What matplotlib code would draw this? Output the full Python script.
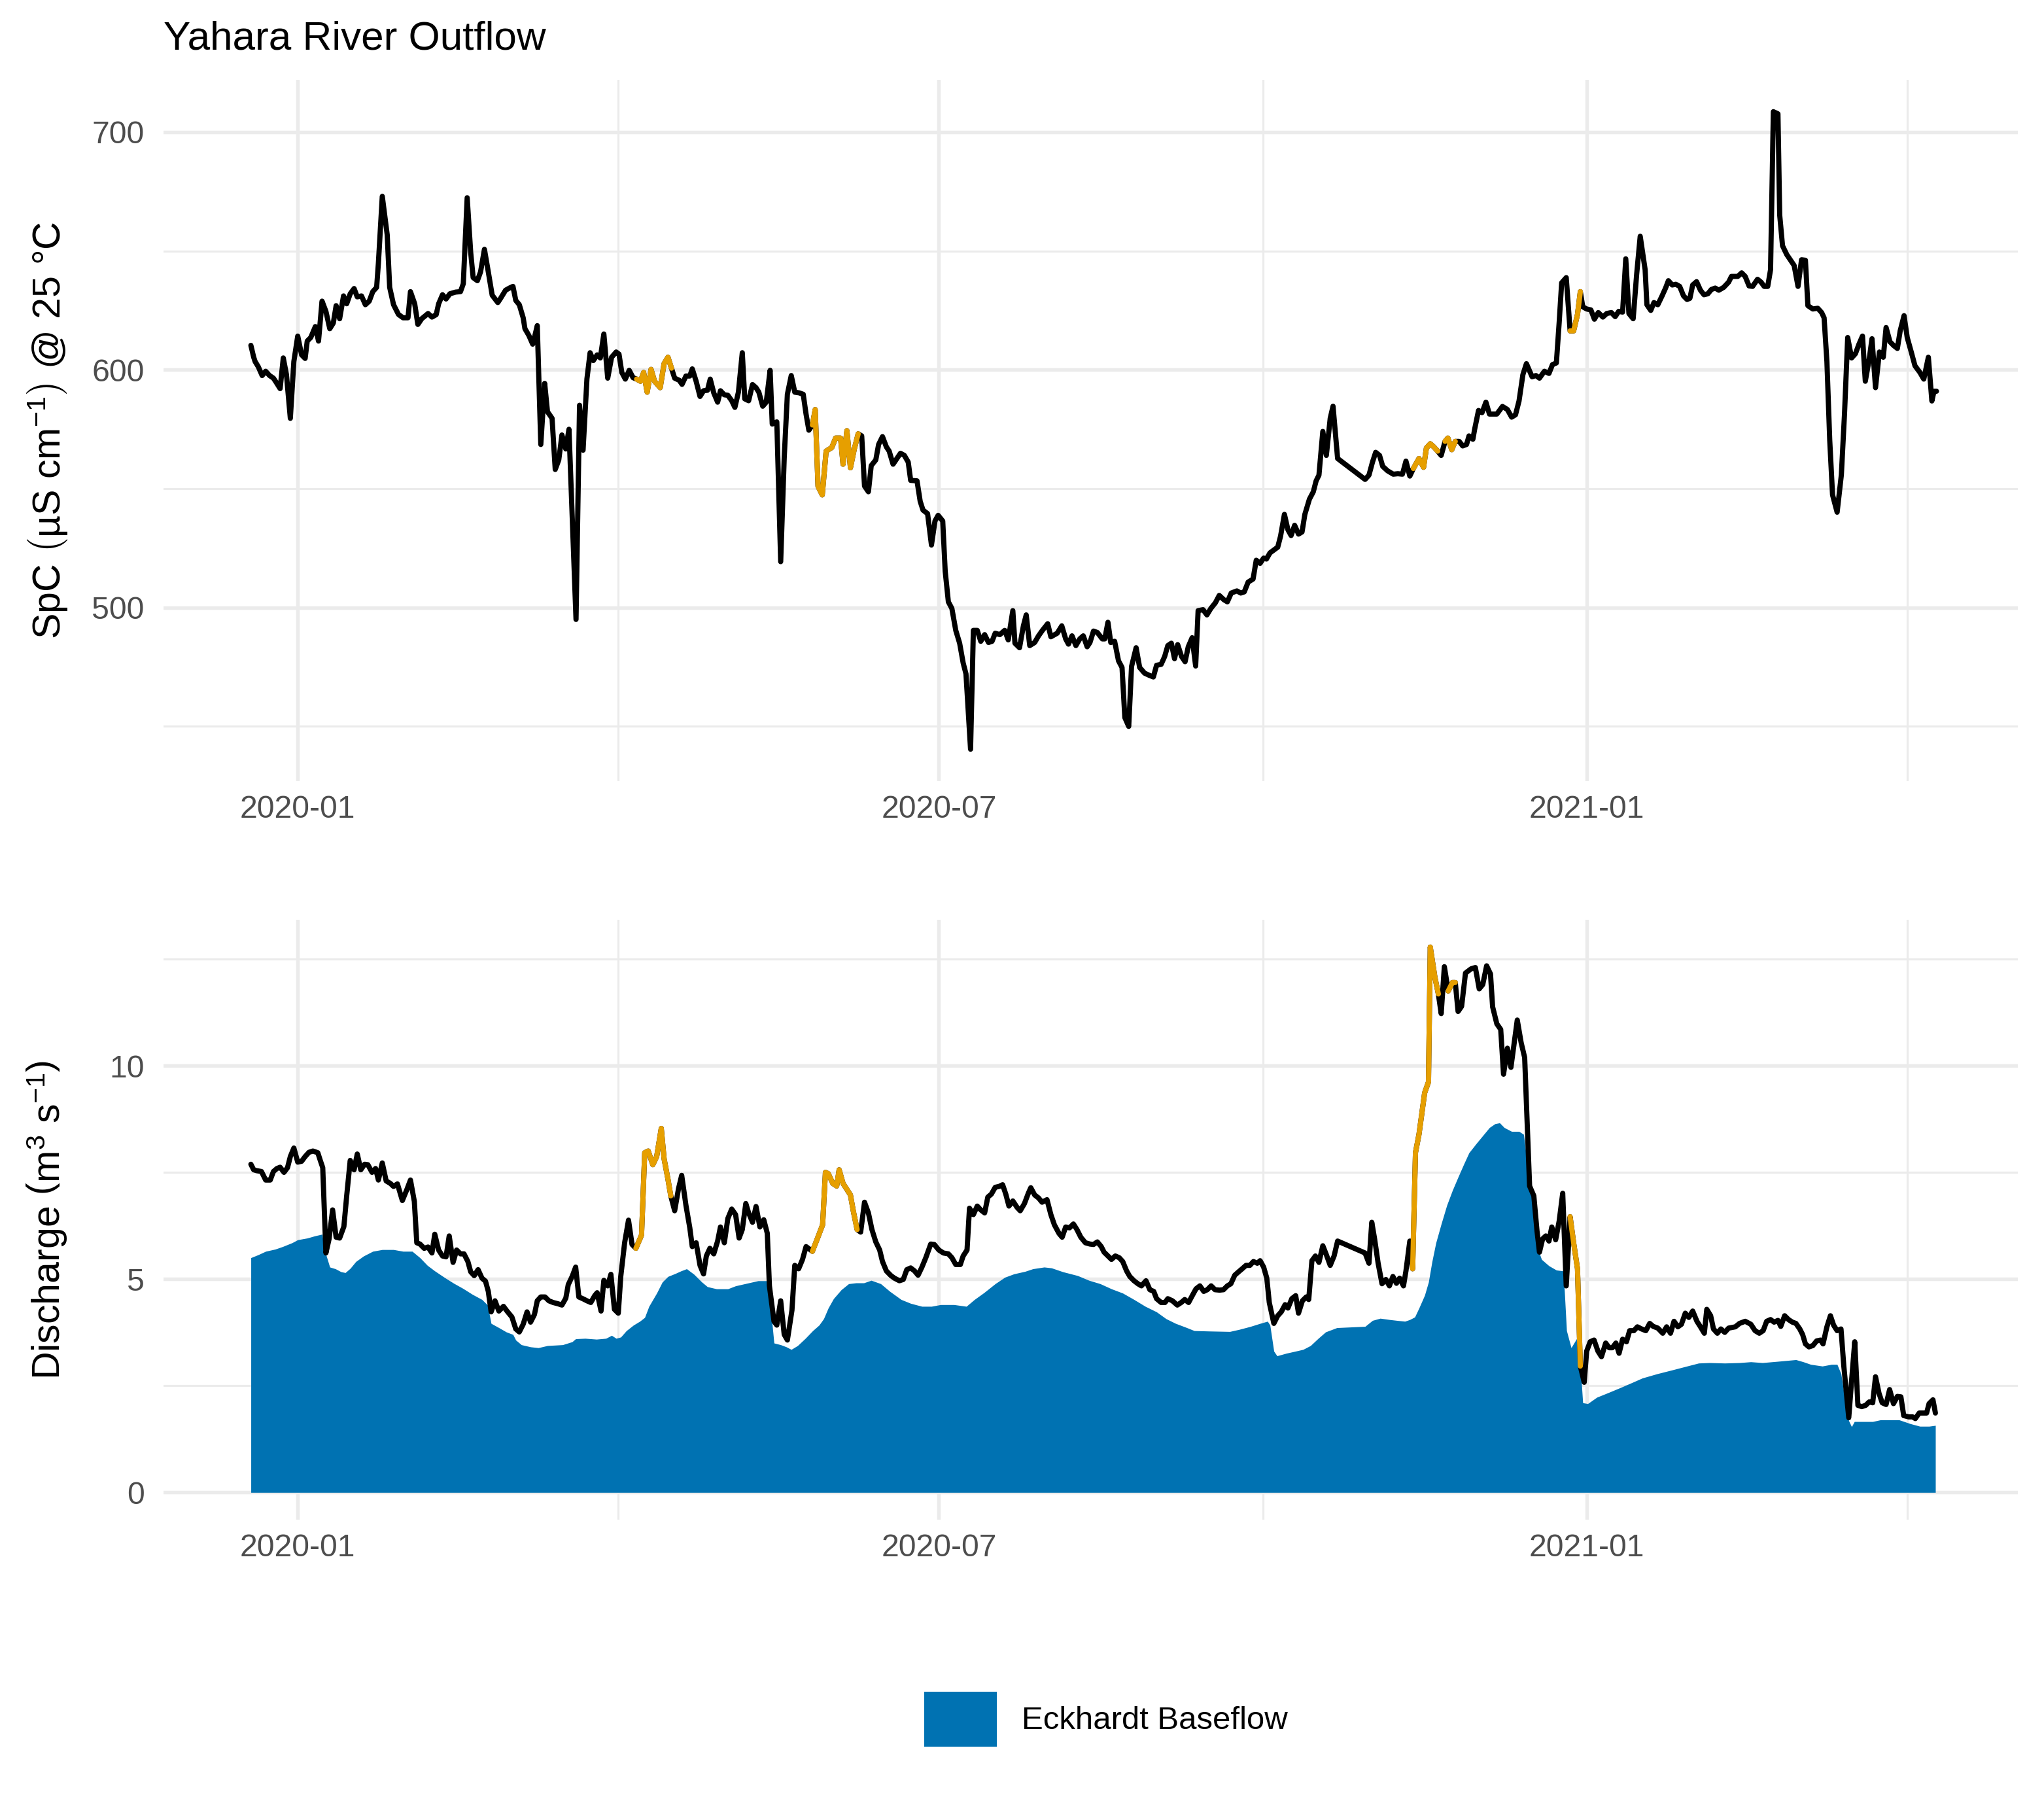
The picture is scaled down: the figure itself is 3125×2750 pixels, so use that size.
import numpy as np
import matplotlib
matplotlib.use('Agg')
import matplotlib.pyplot as plt
import matplotlib.dates as mdates
from matplotlib.patches import Patch

plt.rcParams['font.family'] = ['Liberation Sans', 'DejaVu Sans']
plt.rcParams['mathtext.fontset'] = 'custom'
plt.rcParams['mathtext.rm'] = 'Liberation Sans'
plt.rcParams['mathtext.it'] = 'Liberation Sans:italic'
plt.rcParams['mathtext.sf'] = 'Liberation Sans'

# days are counted from 2020-01-01
START = np.datetime64('2020-01-01')

# specific conductance, uS/cm @ 25 C
spc_day = [
    -13.3, -12.5, -12.1, -11.2, -10.1, -9.1, -8.0, -6.9, -6.1, -5.0,
    -4.1, -3.2, -2.1, -1.1, 0.0, 1.1, 2.1, 2.7, 3.7, 5.0,
    5.9, 6.9, 8.0, 9.1, 10.1, 10.9, 11.9, 13.0, 13.9, 14.9,
    16.0, 16.9, 18.1, 19.2, 20.3, 21.3, 22.4, 22.9, 24.0, 25.4,
    26.1, 27.2, 28.6, 29.9, 31.3, 32.0, 33.2, 34.1, 35.2, 37.0,
    38.1, 39.3, 40.0, 41.1, 42.1, 43.2, 44.8, 46.2, 47.0, 48.1,
    49.1, 49.8, 51.0, 51.9, 53.0, 54.1, 55.2, 56.8, 57.6, 59.0,
    60.1, 61.1, 61.9, 62.9, 64.0, 64.5, 65.6, 66.7, 67.2, 68.0,
    69.0, 70.1, 70.9, 72.2, 73.1, 74.1, 75.0, 76.1, 77.0, 79.0,
    80.0, 81.0, 82.1, 83.0, 83.9, 85.0, 85.9, 86.9, 88.0, 89.1,
    90.4, 91.2, 92.0, 93.0, 94.1, 95.2, 96.2, 97.3, 98.2, 99.2,
    100.3, 101.3, 102.9, 104.0, 105.1, 106.1, 107.0, 108.3, 109.1, 110.2,
    111.3, 112.0, 113.1, 114.2, 115.2, 116.3, 117.1, 118.1, 119.2, 120.0,
    121.1, 122.1, 123.2, 124.1, 125.1, 126.2, 126.9, 128.0, 129.1, 130.1,
    130.9, 132.0, 133.0, 134.1, 134.7, 136.0, 137.1, 138.1, 139.0, 140.1,
    141.1, 142.4, 143.5, 144.3, 145.1, 146.1, 146.9, 147.7, 148.9, 150.0,
    151.6, 152.7, 154.1, 154.8, 155.9, 156.9, 158.0, 159.1, 160.1, 160.9,
    162.0, 162.8, 164.1, 164.9, 166.0, 167.1, 167.9, 169.0, 170.1, 171.1,
    172.2, 173.3, 174.0, 175.8, 176.7, 177.5, 178.8, 179.9, 180.9, 181.8,
    183.1, 183.8, 184.7, 185.7, 186.8, 187.9, 188.9, 189.7, 191.0, 191.8,
    192.9, 193.9, 195.0, 196.1, 197.1, 198.0, 199.3, 200.7, 201.7, 203.0,
    203.6, 204.9, 206.0, 206.8, 207.8, 209.2, 210.3, 211.4, 212.9, 213.8,
    215.6, 216.9, 218.0, 218.8, 219.8, 220.9, 222.0, 223.0, 224.1, 224.9,
    225.9, 227.0, 228.4, 229.1, 230.0, 230.8, 231.9, 233.0, 234.0, 234.8,
    235.9, 236.7, 238.0, 239.0, 240.4, 241.7, 242.9, 243.8, 245.1, 246.1,
    247.0, 248.0, 248.9, 249.8, 250.9, 251.9, 252.8, 253.9, 254.9, 255.6,
    257.0, 258.1, 259.2, 260.5, 261.6, 262.9, 263.9, 265.0, 266.6, 267.7,
    268.7, 269.8, 271.2, 272.1, 273.2, 274.2, 275.0, 276.0, 278.2, 279.0,
    280.1, 281.1, 282.0, 283.0, 284.1, 285.1, 285.9, 287.2, 288.3, 289.1,
    289.9, 291.0, 292.0, 293.1, 293.9, 295.2, 303.0, 304.1, 305.1, 306.0,
    307.1, 308.0, 309.4, 311.0, 312.3, 313.6, 314.6, 315.7, 316.7, 318.3,
    319.6, 320.4, 321.5, 322.5, 323.6, 324.6, 325.7, 326.5, 327.6, 328.6,
    329.7, 330.7, 331.8, 332.5, 333.6, 334.1, 335.2, 336.2, 337.3, 338.3,
    340.4, 342.0, 343.4, 344.6, 345.7, 346.7, 347.8, 348.8, 350.4, 351.5,
    352.5, 353.9, 355.2, 356.2, 357.3, 358.1, 358.8, 360.1, 361.2, 362.2,
    363.3, 364.1, 364.8, 365.9, 367.1, 368.1, 369.2, 370.5, 371.6, 372.9,
    374.0, 375.0, 376.1, 377.0, 377.9, 379.1, 380.1, 381.1, 382.5, 383.0,
    384.1, 385.0, 386.1, 387.3, 388.3, 389.1, 390.2, 391.2, 392.3, 393.4,
    394.4, 395.2, 396.0, 397.1, 398.2, 399.2, 400.3, 401.3, 402.4, 403.4,
    404.8, 406.2, 407.0, 408.8, 409.9, 410.9, 412.0, 413.0, 414.4, 415.4,
    416.3, 417.3, 418.1, 418.9, 420.2, 420.7, 421.5, 422.7, 424.1, 424.8,
    425.9, 426.9, 428.0, 428.7, 430.1, 431.5, 432.6, 433.3, 434.1, 434.9,
    435.7, 437.0, 438.2, 439.1, 440.0, 441.1, 442.2, 443.2, 444.2, 445.0,
    446.1, 446.9, 447.9, 449.0, 450.1, 450.9, 452.0, 453.0, 454.1, 454.9,
    456.0, 456.9, 458.1, 459.1, 460.5, 461.6, 462.9, 463.9, 464.5, 465.2,
]
spc_val = [
    610.3, 605.3, 603.5, 601.3, 597.6, 599.4, 597.6, 596.5, 594.7, 592.1,
    605.0, 598.0, 579.6, 603.5, 614.2, 606.3, 604.8, 612.1, 613.6, 618.2,
    612.1, 628.9, 624.6, 617.3, 619.7, 627.0, 621.5, 631.1, 627.8, 632.0,
    634.2, 630.7, 631.1, 627.4, 628.9, 632.9, 634.7, 644.9, 673.0, 656.8,
    634.7, 627.4, 623.3, 621.9, 621.9, 632.9, 627.8, 619.1, 621.5, 623.7,
    622.2, 623.2, 627.8, 631.6, 629.8, 632.0, 632.7, 632.9, 636.2, 672.4,
    649.4, 638.8, 637.5, 641.2, 650.7, 641.2, 631.4, 628.3, 630.1, 633.5,
    634.4, 635.1, 629.2, 627.4, 621.9, 617.3, 614.5, 610.8, 613.6, 618.6,
    568.6, 594.3, 582.4, 579.6, 558.1, 562.1, 572.6, 566.7, 575.0, 495.0,
    585.1, 566.2, 596.2, 607.2, 603.9, 606.3, 605.0, 615.1, 596.5, 605.3,
    607.5, 606.6, 598.9, 596.1, 599.8, 596.7, 596.1, 595.2, 598.9, 590.6,
    600.2, 595.2, 592.5, 602.6, 605.3, 600.7, 596.5, 595.6, 593.9, 597.4,
    597.4, 600.4, 595.2, 588.8, 591.2, 591.4, 596.1, 590.3, 586.4, 591.2,
    589.5, 589.3, 587.0, 584.2, 590.6, 607.2, 587.8, 587.0, 593.8, 592.5,
    590.6, 584.7, 586.4, 599.8, 577.2, 578.1, 519.3, 563.0, 589.7, 597.6,
    590.6, 590.3, 589.7, 581.4, 574.6, 576.8, 583.3, 551.0, 547.4, 565.8,
    567.3, 571.3, 571.3, 560.3, 574.4, 558.8, 566.7, 573.1, 572.2, 551.1,
    548.7, 559.7, 562.1, 568.6, 571.9, 567.6, 565.8, 560.3, 562.7, 564.9,
    564.0, 561.2, 553.5, 553.3, 544.7, 541.0, 539.5, 526.3, 536.4, 538.8,
    536.4, 515.3, 502.4, 499.6, 490.4, 485.0, 476.7, 472.1, 440.4, 490.4,
    490.4, 485.8, 488.6, 485.3, 485.8, 489.2, 488.6, 490.4, 486.4, 498.7,
    485.0, 483.1, 492.3, 496.9, 484.0, 485.3, 488.1, 490.4, 493.2, 487.7,
    489.2, 492.3, 486.8, 484.6, 488.1, 484.0, 486.8, 488.1, 483.5, 485.3,
    490.1, 489.5, 486.8, 486.8, 493.8, 485.3, 485.8, 477.6, 474.8, 453.7,
    450.0, 475.2, 483.1, 474.8, 472.4, 471.5, 470.8, 475.7, 476.1, 479.4,
    484.0, 485.0, 478.5, 484.4, 479.4, 477.2, 483.5, 487.3, 475.4, 498.7,
    499.1, 496.9, 499.6, 502.0, 505.1, 503.3, 502.4, 506.1, 507.0, 506.1,
    506.6, 510.7, 512.0, 519.9, 518.6, 520.8, 520.4, 523.0, 525.4, 530.0,
    539.2, 532.7, 530.3, 534.6, 530.9, 531.8, 539.2, 545.6, 548.7, 553.3,
    555.7, 574.1, 564.0, 579.6, 584.7, 562.7, 553.9, 555.7, 561.2, 565.3,
    564.0, 559.4, 557.5, 556.1, 556.3, 556.1, 561.6, 555.3, 558.5, 562.7,
    559.0, 567.1, 568.9, 567.6, 565.8, 564.0, 569.9, 571.3, 566.4, 569.9,
    569.9, 568.0, 568.6, 572.2, 570.8, 575.0, 582.9, 582.0, 586.4, 581.4,
    581.4, 584.6, 583.3, 580.1, 581.1, 586.9, 598.0, 602.6, 597.1, 597.6,
    596.5, 599.4, 598.5, 602.2, 602.9, 620.0, 636.6, 638.8, 616.4, 616.4,
    623.3, 632.9, 626.5, 625.6, 625.2, 621.3, 624.1, 622.2, 623.7, 624.1,
    622.4, 624.6, 624.3, 646.7, 623.7, 621.5, 640.3, 656.2, 642.1, 627.4,
    625.0, 628.3, 627.4, 631.1, 634.4, 637.5, 635.7, 636.0, 635.1, 631.1,
    629.6, 630.1, 635.7, 637.1, 633.5, 631.6, 632.0, 633.8, 634.4, 633.5,
    634.7, 636.9, 639.3, 639.3, 640.8, 639.3, 635.3, 635.1, 638.1, 636.9,
    635.1, 635.1, 642.1, 708.6, 707.7, 665.1, 652.2, 648.5, 645.4, 643.9,
    635.1, 646.3, 646.1, 627.0, 625.6, 625.9, 624.1, 621.9, 603.5, 570.4,
    547.4, 540.1, 555.8, 581.6, 613.6, 605.0, 606.8, 610.8, 614.2, 595.2,
    604.4, 613.1, 592.5, 607.5, 605.3, 617.8, 611.8, 610.3, 609.0, 616.4,
    622.8, 613.6, 607.2, 601.7, 598.9, 596.1, 605.3, 586.9, 591.0, 591.0,
]

# discharge, m3/s
q_day = [
    -13.3, -12.5, -11.7, -10.3, -9.1, -7.8, -6.9, -5.9, -5.0, -3.9,
    -2.9, -2.1, -1.1, 0.0, 1.1, 2.1, 3.2, 4.3, 5.7, 6.4,
    7.1, 8.0, 8.9, 9.9, 10.9, 11.9, 13.1, 13.9, 14.9, 16.0,
    16.9, 17.9, 19.0, 19.9, 21.1, 22.1, 22.9, 24.0, 25.1, 26.3,
    27.2, 28.3, 29.7, 30.9, 32.0, 33.1, 33.8, 34.7, 35.9, 37.0,
    38.1, 38.9, 40.0, 41.1, 42.1, 43.0, 44.1, 45.1, 46.2, 47.2,
    48.3, 49.1, 50.1, 51.2, 52.3, 53.3, 54.1, 54.9, 56.0, 57.1,
    58.4, 59.4, 60.8, 61.9, 62.9, 64.0, 65.1, 66.1, 67.2, 68.0,
    69.0, 70.2, 71.3, 72.5, 73.9, 75.0, 76.1, 76.8, 77.9, 78.9,
    79.8, 80.9, 82.1, 83.2, 84.3, 85.0, 86.1, 86.9, 88.0, 88.9,
    89.9, 91.0, 91.7, 92.8, 93.9, 94.9, 96.0, 97.6, 98.5, 99.5,
    100.8, 101.9, 103.2, 104.0, 105.1, 105.9, 107.0, 108.1, 109.0, 110.2,
    111.3, 112.0, 113.1, 114.2, 115.2, 116.0, 117.0, 118.1, 119.2, 120.0,
    121.1, 122.1, 123.2, 124.3, 125.3, 126.2, 127.2, 128.0, 129.1, 130.1,
    131.2, 132.3, 133.3, 133.9, 135.2, 136.0, 137.1, 138.1, 139.0, 140.3,
    141.1, 142.2, 143.3, 144.3, 146.1, 147.9, 149.0, 149.8, 150.6, 151.9,
    153.0, 153.7, 154.8, 155.9, 156.9, 157.7, 158.8, 159.8, 160.9, 162.0,
    163.0, 164.1, 165.2, 166.0, 167.1, 168.4, 169.4, 170.8, 171.9, 172.9,
    174.0, 175.1, 176.1, 177.2, 178.3, 179.7, 180.7, 182.0, 183.3, 184.7,
    185.7, 186.8, 188.1, 188.9, 190.0, 190.7, 191.8, 192.9, 193.9, 195.0,
    195.9, 196.9, 198.0, 199.1, 200.1, 201.0, 201.9, 203.0, 204.2, 205.1,
    206.3, 207.4, 208.1, 209.2, 210.3, 211.3, 212.7, 213.8, 214.8, 216.1,
    217.0, 218.0, 219.1, 220.2, 221.2, 222.3, 223.6, 224.9, 225.9, 227.0,
    228.1, 228.9, 230.0, 231.0, 232.1, 233.2, 234.2, 235.3, 236.2, 237.4,
    238.5, 239.5, 240.8, 241.9, 243.0, 243.8, 245.1, 246.2, 247.0, 248.3,
    249.7, 250.8, 251.8, 252.9, 254.0, 255.0, 256.1, 257.2, 258.2, 259.3,
    260.4, 261.7, 262.8, 263.9, 264.9, 266.0, 267.1, 268.1, 269.2, 270.3,
    271.3, 272.4, 273.2, 274.2, 275.1, 275.8, 277.1, 278.2, 279.2, 280.3,
    281.1, 282.2, 283.3, 284.1, 285.2, 286.3, 287.0, 287.9, 288.9, 289.9,
    291.0, 292.0, 293.1, 294.2, 295.2, 303.0, 304.1, 304.9, 305.7, 306.7,
    307.8, 308.9, 309.9, 310.9, 311.9, 312.8, 313.9, 314.6, 315.7, 316.5,
    317.3, 318.3, 319.9, 321.0, 321.5, 322.8, 323.8, 324.6, 325.5, 326.6,
    327.8, 328.6, 329.4, 330.4, 331.5, 333.1, 334.3, 335.4, 336.4, 337.5,
    338.6, 339.2, 340.4, 341.5, 342.3, 343.4, 344.4, 346.2, 347.3, 348.3,
    349.7, 350.9, 351.8, 352.5, 353.4, 354.3, 355.2, 356.0, 357.1, 358.1,
    359.1, 360.1, 361.2, 362.2, 363.3, 364.1, 365.2, 365.9, 366.9, 368.0,
    369.1, 370.1, 371.3, 372.3, 373.2, 374.2, 375.1, 376.1, 377.2, 378.1,
    379.3, 380.3, 381.5, 382.7, 383.8, 384.8, 386.1, 387.5, 388.6, 389.7,
    390.7, 391.8, 392.8, 393.9, 394.9, 396.0, 397.2, 398.2, 399.3, 400.0,
    401.1, 401.9, 403.0, 404.0, 405.1, 406.2, 408.1, 409.3, 410.9, 412.5,
    413.7, 414.9, 416.0, 417.0, 418.1, 419.1, 420.2, 421.0, 422.1, 423.2,
    424.3, 425.3, 426.4, 427.2, 428.0, 429.0, 430.1, 431.2, 432.3, 433.0,
    434.1, 435.1, 436.0, 437.0, 438.1, 438.9, 440.3, 441.1, 442.0, 442.9,
    444.0, 445.1, 446.1, 447.1, 447.9, 448.9, 449.8, 450.9, 451.9, 453.0,
    454.1, 455.1, 455.9, 457.3, 458.4, 459.2, 460.3, 461.3, 462.4, 463.1,
    464.2, 464.9,
]
q_val = [
    7.69, 7.56, 7.54, 7.52, 7.32, 7.32, 7.52, 7.59, 7.62, 7.50,
    7.61, 7.87, 8.07, 7.74, 7.76, 7.87, 7.97, 8.00, 7.96, 7.78,
    7.61, 5.61, 5.94, 6.62, 5.98, 5.96, 6.23, 6.95, 7.78, 7.56,
    7.93, 7.56, 7.69, 7.68, 7.50, 7.59, 7.32, 7.72, 7.30, 7.24,
    7.17, 7.23, 6.84, 7.08, 7.32, 6.82, 5.85, 5.82, 5.72, 5.75,
    5.61, 6.05, 5.68, 5.54, 5.52, 6.01, 5.39, 5.68, 5.59, 5.59,
    5.41, 5.17, 5.08, 5.22, 5.02, 4.95, 4.71, 4.23, 4.49, 4.25,
    4.36, 4.25, 4.11, 3.83, 3.76, 3.94, 4.23, 3.99, 4.17, 4.49,
    4.58, 4.58, 4.49, 4.45, 4.42, 4.39, 4.55, 4.87, 5.06, 5.28,
    4.58, 4.54, 4.49, 4.45, 4.61, 4.68, 4.25, 4.97, 4.84, 5.11,
    4.29, 4.20, 5.06, 5.85, 6.38, 5.81, 5.72, 6.03, 7.96, 8.00,
    7.68, 7.87, 8.53, 7.82, 7.34, 6.95, 6.60, 7.12, 7.43, 6.73,
    6.20, 5.76, 5.85, 5.32, 5.12, 5.54, 5.72, 5.59, 5.89, 6.22,
    5.85, 6.42, 6.64, 6.51, 5.96, 6.16, 6.77, 6.55, 6.33, 6.70,
    6.22, 6.39, 6.07, 4.84, 4.01, 3.92, 4.49, 3.70, 3.57, 4.27,
    5.32, 5.24, 5.46, 5.76, 5.65, 6.03, 6.27, 7.50, 7.47, 7.24,
    7.18, 7.56, 7.24, 7.10, 6.97, 6.60, 6.16, 6.10, 6.80, 6.55,
    6.16, 5.87, 5.68, 5.41, 5.19, 5.08, 5.02, 4.96, 4.99, 5.22,
    5.26, 5.19, 5.09, 5.28, 5.50, 5.82, 5.81, 5.68, 5.61, 5.59,
    5.50, 5.34, 5.34, 5.54, 5.68, 6.66, 6.51, 6.71, 6.62, 6.55,
    6.92, 6.99, 7.15, 7.17, 7.21, 6.99, 6.71, 6.83, 6.68, 6.60,
    6.77, 7.01, 7.14, 6.97, 6.90, 6.80, 6.86, 6.51, 6.27, 6.07,
    5.98, 6.22, 6.20, 6.29, 6.16, 5.98, 5.85, 5.82, 5.81, 5.87,
    5.76, 5.63, 5.54, 5.46, 5.54, 5.50, 5.41, 5.19, 5.06, 4.96,
    4.89, 4.84, 4.96, 4.75, 4.71, 4.54, 4.45, 4.45, 4.54, 4.49,
    4.39, 4.45, 4.52, 4.45, 4.62, 4.77, 4.84, 4.71, 4.75, 4.84,
    4.75, 4.74, 4.75, 4.84, 4.89, 5.09, 5.17, 5.24, 5.32, 5.32,
    5.41, 5.37, 5.43, 5.28, 5.02, 4.45, 3.96, 4.14, 4.23, 4.40,
    4.32, 4.54, 4.61, 4.20, 4.49, 4.58, 4.52, 5.43, 5.54, 5.39,
    5.78, 5.57, 5.32, 5.54, 5.89, 5.61, 5.37, 6.33, 5.94, 5.37,
    4.89, 4.99, 4.84, 5.06, 4.90, 5.02, 4.84, 5.19, 5.89, 5.24,
    7.96, 8.39, 9.36, 9.62, 12.78, 12.08, 11.68, 11.22, 12.32, 11.75,
    11.95, 11.95, 11.27, 11.39, 12.17, 12.27, 12.30, 11.80, 11.90, 12.34,
    12.15, 11.38, 10.98, 10.85, 9.80, 10.41, 9.96, 11.07, 10.54, 10.19,
    7.18, 6.95, 6.13, 5.63, 5.94, 6.01, 5.89, 6.22, 5.92, 6.36,
    7.01, 4.84, 6.46, 5.85, 5.24, 2.96, 2.58, 3.31, 3.53, 3.57,
    3.31, 3.18, 3.50, 3.39, 3.39, 3.50, 3.26, 3.59, 3.53, 3.79,
    3.79, 3.88, 3.83, 3.79, 3.96, 3.89, 3.85, 3.73, 3.88, 3.73,
    4.01, 3.88, 3.94, 4.20, 4.10, 4.25, 4.01, 3.88, 3.73, 4.29,
    4.14, 3.83, 3.73, 3.83, 3.75, 3.85, 3.88, 3.96, 4.01, 3.94,
    3.79, 3.73, 3.79, 4.01, 4.05, 3.99, 4.03, 3.89, 4.14, 4.05,
    3.99, 3.96, 3.83, 3.70, 3.48, 3.41, 3.44, 3.55, 3.57, 3.48,
    3.88, 4.14, 3.92, 3.79, 3.83, 2.96, 1.75, 2.61, 3.53, 2.04,
    2.01, 2.04, 2.12, 2.10, 2.71, 2.32, 2.10, 2.06, 2.41, 2.08,
    2.25, 2.24, 1.80, 1.77, 1.77, 1.73, 1.86, 1.86, 1.86, 2.08,
    2.17, 1.86,
]

# Eckhardt baseflow, m3/s
bf_day = [
    -13.3, -11.2, -9.1, -6.4, -4.3, -1.6, 0.0, 2.7, 4.8, 6.9,
    7.8, 9.1, 10.7, 12.3, 13.5, 14.9, 16.5, 18.7, 21.3, 24.0,
    27.2, 29.9, 32.5, 34.7, 36.8, 38.9, 41.6, 44.3, 46.9, 49.6,
    52.3, 53.9, 54.9, 57.1, 59.2, 61.1, 61.9, 63.5, 66.1, 68.3,
    70.9, 75.2, 77.9, 78.9, 81.6, 84.8, 87.5, 89.1, 90.4, 91.7,
    93.3, 95.3, 97.1, 98.5, 99.7, 101.9, 103.5, 105.1, 107.2, 108.8,
    110.4, 112.5, 114.7, 116.3, 118.9, 122.1, 124.3, 127.5, 130.7, 133.0,
    133.9, 135.2, 137.1, 138.7, 140.1, 141.9, 144.1, 146.2, 148.0, 149.3,
    150.6, 152.1, 154.3, 156.4, 158.5, 160.7, 162.8, 165.5, 168.1, 171.3,
    174.0, 177.2, 179.9, 182.5, 186.3, 189.8, 192.1, 194.8, 198.0, 200.7,
    203.3, 206.5, 208.7, 211.9, 214.0, 217.2, 221.4, 224.6, 227.8, 231.0,
    234.2, 237.4, 240.6, 243.8, 246.5, 249.2, 252.4, 254.5, 258.8, 264.6,
    267.3, 270.5, 273.2, 275.3, 276.0, 277.1, 278.0, 280.6, 283.3, 285.4,
    287.5, 289.7, 291.8, 295.0, 303.0, 305.1, 307.3, 309.9, 312.0, 314.3,
    315.7, 317.1, 318.3, 319.9, 321.0, 322.0, 323.1, 324.6, 326.2, 327.8,
    329.4, 331.0, 332.5, 334.6, 336.7, 338.3, 339.9, 341.2, 342.5, 344.6,
    346.7, 348.0, 348.8, 349.9, 350.9, 351.8, 353.1, 355.2, 357.3, 359.2,
    359.6, 360.2, 361.5, 363.1, 364.1, 364.8, 366.2, 368.8, 372.1, 375.3,
    378.4, 381.7, 385.9, 390.2, 394.4, 397.7, 400.8, 405.1, 409.3, 412.5,
    415.8, 420.0, 425.3, 427.4, 429.5, 432.8, 435.4, 437.0, 438.1, 439.4,
    440.3, 441.1, 441.9, 445.0, 447.1, 449.3, 454.6, 457.8, 460.5, 463.1,
    464.9,
]
bf_val = [
    5.50, 5.57, 5.65, 5.70, 5.76, 5.85, 5.92, 5.96, 6.01, 6.05,
    5.63, 5.28, 5.24, 5.17, 5.15, 5.25, 5.41, 5.54, 5.65, 5.69,
    5.69, 5.65, 5.65, 5.50, 5.32, 5.19, 5.04, 4.90, 4.78, 4.64,
    4.52, 4.39, 3.96, 3.86, 3.76, 3.70, 3.57, 3.46, 3.41, 3.39,
    3.44, 3.46, 3.53, 3.60, 3.61, 3.59, 3.61, 3.68, 3.61, 3.64,
    3.79, 3.92, 4.01, 4.10, 4.36, 4.67, 4.93, 5.06, 5.13, 5.19,
    5.24, 5.11, 4.93, 4.82, 4.77, 4.77, 4.84, 4.90, 4.96, 4.96,
    4.62, 3.50, 3.46, 3.41, 3.35, 3.44, 3.61, 3.79, 3.92, 4.07,
    4.32, 4.54, 4.75, 4.89, 4.91, 4.91, 4.97, 4.89, 4.71, 4.52,
    4.43, 4.36, 4.36, 4.40, 4.40, 4.36, 4.52, 4.68, 4.89, 5.04,
    5.12, 5.18, 5.24, 5.28, 5.26, 5.17, 5.08, 4.97, 4.89, 4.77,
    4.67, 4.52, 4.36, 4.23, 4.07, 3.96, 3.86, 3.79, 3.78, 3.77,
    3.82, 3.89, 3.96, 4.01, 3.92, 3.31, 3.20, 3.26, 3.31, 3.35,
    3.44, 3.61, 3.76, 3.86, 3.89, 4.03, 4.08, 4.05, 4.03, 4.01,
    4.05, 4.11, 4.32, 4.62, 4.93, 5.41, 5.85, 6.29, 6.73, 7.08,
    7.39, 7.69, 7.96, 8.18, 8.39, 8.55, 8.64, 8.66, 8.55, 8.46,
    8.46, 8.39, 7.87, 7.17, 6.77, 5.76, 5.46, 5.31, 5.21, 5.19,
    4.71, 3.79, 3.39, 3.61, 2.96, 2.10, 2.08, 2.23, 2.34, 2.45,
    2.56, 2.68, 2.78, 2.87, 2.96, 3.03, 3.04, 3.03, 3.04, 3.06,
    3.04, 3.07, 3.11, 3.06, 3.00, 2.96, 3.00, 3.00, 2.78, 2.08,
    1.68, 1.54, 1.66, 1.66, 1.66, 1.70, 1.70, 1.61, 1.55, 1.55,
    1.57,
]

# periods drawn in orange (flagged values)
flag_start = [96.0, 146.0, 316.5, 325.6, 361.1]
flag_end = [106.1, 159.1, 323.8, 328.7, 364.2]

# date axis
major_dates = ['2020-01-01', '2020-07-01', '2021-01-01']
x_from, x_to = -38.1, 488.3  # days, visible range

BLACK = '#000000'
ORANGE = '#E69F00'
BLUE = '#0072B2'
GRID = '#EBEBEB'
LW = 1.9


def to_num(days):
    return mdates.date2num(START) + np.asarray(days, dtype=float)


def draw_series(ax, days, vals):
    d = np.asarray(days, dtype=float)
    v = np.asarray(vals, dtype=float)
    x = to_num(d)
    ax.plot(x, v, color=BLACK, lw=LW, solid_joinstyle='round',
            solid_capstyle='round', zorder=3)
    for s, e in zip(flag_start, flag_end):
        m = (d >= s) & (d <= e)
        ax.plot(x[m], v[m], color=ORANGE, lw=LW, solid_joinstyle='round',
                solid_capstyle='round', zorder=4)


def pad(lo, hi, f=0.05):
    w = hi - lo
    return lo - f * w, hi + f * w


# ggplot-style minor breaks: halfway between majors, extended by the first step
maj = mdates.date2num(np.array(major_dates, dtype='datetime64[D]'))
step = maj[1] - maj[0]
ext = np.concatenate([[maj[0] - step], maj, [maj[-1] + step]])
minor_x = (ext[:-1] + ext[1:]) / 2


def style(ax, ylim, major, minor):
    for s in ax.spines.values():
        s.set_visible(False)
    ax.set_xlim(to_num(x_from), to_num(x_to))
    ax.set_ylim(*ylim)
    ax.set_xticks(maj)
    ax.set_xticklabels([d[:7] for d in major_dates])
    ax.set_xticks(minor_x, minor=True)
    ax.set_yticks(major)
    ax.set_yticks(minor, minor=True)
    ax.grid(True, which='major', color=GRID, lw=1.3)
    ax.grid(True, which='minor', color=GRID, lw=0.75)
    ax.set_axisbelow(True)
    ax.tick_params(which='both', length=0)
    ax.tick_params(axis='x', pad=5, labelsize=11.6, labelcolor='#4D4D4D')
    ax.tick_params(axis='y', pad=7, labelsize=11.6, labelcolor='#4D4D4D')
    ax.set_xlim(to_num(x_from), to_num(x_to))


W, H = 3125, 2750
fig = plt.figure(figsize=(W / 300, H / 300), dpi=300)
fig.patch.set_facecolor('white')

ax1 = fig.add_axes([250 / W, 1 - 1194 / H, 2835 / W, 1072 / H])
ax2 = fig.add_axes([250 / W, 1 - 2323 / H, 2835 / W, 917 / H])

# top: specific conductance
draw_series(ax1, spc_day, spc_val)
style(ax1, pad(min(spc_val), max(spc_val)), [500, 600, 700], [450, 550, 650])
ax1.set_ylabel(r'SpC $\left(\mathrm{µS\ cm^{-1}}\right)$ @ 25 °C', fontsize=14.2)
ax1.yaxis.set_label_coords(-0.0508, 0.5)

# bottom: discharge with baseflow
ax2.fill_between(to_num(bf_day), 0, bf_val, color=BLUE, lw=0, zorder=2)
draw_series(ax2, q_day, q_val)
style(ax2, pad(0, max(q_val)), [0, 5, 10], [2.5, 7.5, 12.5])
ax2.set_ylabel(r'Discharge $\left(\mathrm{m^{3}\ s^{-1}}\right)$', fontsize=14.2)
ax2.yaxis.set_label_coords(-0.0508, 0.5)

fig.text(250 / W, 1 - 76 / H, 'Yahara River Outflow', fontsize=14.9,
         ha='left', va='baseline')

fig.legend(handles=[Patch(facecolor=BLUE, edgecolor='none', label='Eckhardt Baseflow')],
           loc='center', bbox_to_anchor=(1691 / W, 1 - 2628 / H), frameon=False,
           fontsize=11.8, handlelength=2.25, handleheight=2.25, handletextpad=0.78,
           borderpad=0)

fig.savefig('out.png', dpi=300)
